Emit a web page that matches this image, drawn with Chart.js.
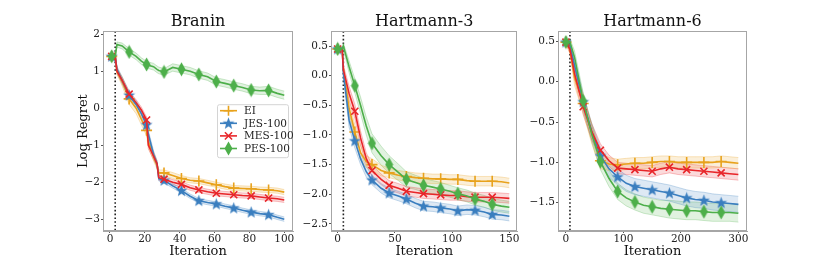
<!DOCTYPE html>
<html>
<head>
<meta charset="utf-8">
<script src="https://cdn.jsdelivr.net/npm/chart.js@4"></script>
<style>
  body { margin: 0; background: #fff; }
  .panel { position: absolute; top: 0; }
</style>
</head>
<body>
<canvas id="branin" class="panel" style="left:70px" width="230" height="260"></canvas>
<canvas id="hart3" class="panel" style="left:300px" width="225" height="260"></canvas>
<canvas id="hart6" class="panel" style="left:525px" width="230" height="260"></canvas>
<script>
// ---- data ----
const methods = ['EI', 'JES-100', 'MES-100', 'PES-100']

// Branin
const branX = [0, 1, 3, 4, 7, 11, 15, 18, 21, 22, 25, 27, 28, 31, 36, 41, 46, 51, 56, 61, 66, 71, 76, 81, 86, 91, 96, 100]
const branEI = [1.4, 1.4, 1.4, 1.0, 0.72, 0.25, 0.0, -0.3, -0.6, -0.9, -1.3, -1.55, -1.75, -1.75, -1.82, -1.9, -1.95, -1.97, -2.02, -2.07, -2.12, -2.16, -2.17, -2.18, -2.2, -2.21, -2.23, -2.27]
const branJES = [1.4, 1.4, 1.4, 1.05, 0.75, 0.35, 0.1, -0.15, -0.45, -0.7, -1.25, -1.5, -1.9, -1.95, -2.1, -2.23, -2.38, -2.5, -2.55, -2.59, -2.65, -2.7, -2.76, -2.81, -2.85, -2.88, -2.95, -3.0]
const branMES = [1.4, 1.4, 1.4, 1.0, 0.75, 0.38, 0.15, -0.05, -0.32, -1.0, -1.3, -1.5, -1.88, -1.92, -2.0, -2.06, -2.15, -2.21, -2.26, -2.3, -2.32, -2.34, -2.36, -2.37, -2.4, -2.43, -2.45, -2.48]
const branPES = [1.4, 1.4, 1.4, 1.72, 1.68, 1.52, 1.4, 1.27, 1.18, 1.16, 1.12, 1.05, 1.02, 0.98, 1.1, 1.05, 1.0, 0.91, 0.85, 0.72, 0.67, 0.61, 0.56, 0.49, 0.47, 0.48, 0.4, 0.35]
const branEIerr = [0.05, 0.05, 0.05, 0.08, 0.12, 0.15, 0.15, 0.15, 0.15, 0.15, 0.12, 0.1, 0.08, 0.08, 0.08, 0.08, 0.07, 0.07, 0.07, 0.07, 0.07, 0.07, 0.07, 0.07, 0.07, 0.07, 0.07, 0.07]
const branJESerr = [0.05, 0.05, 0.05, 0.08, 0.1, 0.1, 0.1, 0.1, 0.1, 0.1, 0.1, 0.08, 0.07, 0.07, 0.06, 0.06, 0.06, 0.06, 0.06, 0.06, 0.06, 0.06, 0.06, 0.06, 0.06, 0.06, 0.06, 0.06]
const branMESerr = [0.05, 0.05, 0.05, 0.08, 0.08, 0.08, 0.08, 0.08, 0.08, 0.1, 0.1, 0.08, 0.07, 0.07, 0.07, 0.07, 0.07, 0.07, 0.07, 0.07, 0.07, 0.07, 0.07, 0.07, 0.07, 0.07, 0.07, 0.07]
const branPESerr = [0.06, 0.06, 0.06, 0.07, 0.08, 0.09, 0.09, 0.09, 0.09, 0.09, 0.09, 0.09, 0.09, 0.09, 0.1, 0.1, 0.1, 0.1, 0.1, 0.1, 0.1, 0.1, 0.1, 0.1, 0.1, 0.11, 0.11, 0.11]
const branMarks = [1, 11, 21, 31, 41, 51, 61, 71, 81, 91]

// Hartmann-3
const h3X = [0, 4, 5, 10, 15, 20, 25, 30, 38, 45, 53, 60, 68, 75, 83, 90, 98, 105, 113, 120, 128, 135, 143, 150]
const h3EI = [0.45, 0.45, 0.1, -0.55, -0.95, -1.3, -1.45, -1.5, -1.6, -1.64, -1.68, -1.7, -1.72, -1.73, -1.74, -1.74, -1.75, -1.75, -1.77, -1.78, -1.78, -1.78, -1.79, -1.81]
const h3JES = [0.45, 0.45, 0.05, -0.75, -1.1, -1.4, -1.62, -1.76, -1.9, -1.98, -2.03, -2.08, -2.15, -2.2, -2.21, -2.23, -2.25, -2.28, -2.26, -2.27, -2.3, -2.34, -2.35, -2.37]
const h3MES = [0.45, 0.45, 0.1, -0.3, -0.6, -1.05, -1.4, -1.6, -1.75, -1.85, -1.9, -1.95, -1.97, -1.99, -2.0, -2.01, -2.02, -2.02, -2.04, -2.05, -2.05, -2.05, -2.06, -2.07]
const h3PES = [0.45, 0.45, 0.5, 0.15, -0.17, -0.5, -0.85, -1.14, -1.35, -1.5, -1.63, -1.75, -1.8, -1.85, -1.88, -1.91, -1.95, -1.99, -2.03, -2.08, -2.12, -2.17, -2.2, -2.22]
const h3EIerr = [0.03, 0.03, 0.08, 0.12, 0.12, 0.12, 0.1, 0.1, 0.09, 0.08, 0.08, 0.08, 0.08, 0.08, 0.08, 0.08, 0.08, 0.08, 0.08, 0.08, 0.08, 0.08, 0.08, 0.08]
const h3JESerr = [0.03, 0.03, 0.08, 0.12, 0.12, 0.1, 0.09, 0.08, 0.08, 0.08, 0.08, 0.08, 0.08, 0.08, 0.08, 0.08, 0.08, 0.08, 0.08, 0.08, 0.08, 0.08, 0.08, 0.08]
const h3MESerr = [0.03, 0.03, 0.08, 0.12, 0.12, 0.12, 0.1, 0.1, 0.09, 0.08, 0.08, 0.08, 0.08, 0.08, 0.08, 0.08, 0.08, 0.08, 0.08, 0.08, 0.08, 0.08, 0.08, 0.08]
const h3PESerr = [0.03, 0.03, 0.05, 0.1, 0.12, 0.14, 0.15, 0.16, 0.16, 0.15, 0.14, 0.13, 0.12, 0.12, 0.11, 0.11, 0.1, 0.1, 0.1, 0.1, 0.1, 0.1, 0.1, 0.1]
const h3Marks = [0, 15, 30, 45, 60, 75, 90, 105, 120, 135]

// Hartmann-6
const h6X = [0, 7, 15, 30, 45, 60, 75, 90, 105, 120, 135, 150, 165, 180, 195, 210, 225, 240, 255, 270, 285, 300]
const h6EI = [0.49, 0.4, 0.05, -0.27, -0.65, -0.98, -1.02, -1.03, -1.02, -1.01, -1.01, -1.0, -0.99, -0.99, -1.0, -1.0, -1.0, -1.0, -1.0, -0.99, -1.0, -1.01]
const h6JES = [0.49, 0.45, 0.2, -0.25, -0.62, -0.92, -1.08, -1.18, -1.26, -1.3, -1.32, -1.34, -1.36, -1.38, -1.41, -1.44, -1.46, -1.47, -1.49, -1.5, -1.51, -1.52]
const h6MES = [0.49, 0.4, 0.1, -0.31, -0.62, -0.85, -0.98, -1.07, -1.08, -1.09, -1.1, -1.11, -1.08, -1.06, -1.08, -1.09, -1.1, -1.11, -1.12, -1.13, -1.14, -1.15]
const h6PES = [0.49, 0.49, 0.3, -0.24, -0.65, -0.99, -1.2, -1.36, -1.44, -1.49, -1.53, -1.55, -1.57, -1.58, -1.59, -1.6, -1.6, -1.61, -1.62, -1.62, -1.62, -1.63]
const h6EIerr = [0.02, 0.05, 0.1, 0.12, 0.12, 0.1, 0.08, 0.07, 0.07, 0.07, 0.07, 0.07, 0.07, 0.07, 0.07, 0.07, 0.07, 0.07, 0.07, 0.07, 0.07, 0.07]
const h6JESerr = [0.02, 0.05, 0.08, 0.1, 0.1, 0.1, 0.1, 0.1, 0.1, 0.1, 0.1, 0.1, 0.1, 0.1, 0.1, 0.1, 0.1, 0.1, 0.1, 0.1, 0.1, 0.1]
const h6MESerr = [0.02, 0.05, 0.08, 0.1, 0.1, 0.08, 0.07, 0.07, 0.07, 0.07, 0.07, 0.07, 0.07, 0.07, 0.07, 0.07, 0.07, 0.07, 0.07, 0.07, 0.07, 0.07]
const h6PESerr = [0.02, 0.04, 0.08, 0.1, 0.1, 0.1, 0.1, 0.1, 0.1, 0.1, 0.1, 0.1, 0.1, 0.11, 0.11, 0.11, 0.11, 0.11, 0.11, 0.11, 0.11, 0.11]
const h6Marks = [0, 30, 60, 90, 120, 150, 180, 210, 240, 270]

// initial design size (dotted line)
const initPoints = [3, 5, 7]

// axis ticks
const branXTicks = [0, 20, 40, 60, 80, 100]
const branYTicks = [-3, -2, -1, 0, 1, 2]
const h3XTicks = [0, 50, 100, 150]
const h3YTicks = [-2.5, -2.0, -1.5, -1.0, -0.5, 0.0, 0.5]
const h6XTicks = [0, 100, 200, 300]
const h6YTicks = [-1.5, -1.0, -0.5, 0.0, 0.5]

// ---- styling ----
const colors = ['#e8a21c', '#3a7ebf', '#e8262a', '#4daf4a']
const rgba = (hex, a) => {
    const n = parseInt(hex.slice(1), 16)
    return `rgba(${n >> 16},${(n >> 8) & 255},${n & 255},${a})`
}
const serif = "'DejaVu Serif', serif"
const spine = '#a6a6a6'

function makeStar(color) {
    const c = document.createElement('canvas')
    c.width = 13; c.height = 13
    const g = c.getContext('2d')
    g.fillStyle = color
    g.beginPath()
    for (let i = 0; i < 10; i++) {
        const r = i % 2 ? 2.6 : 6.3
        const a = -Math.PI / 2 + i * Math.PI / 5
        g.lineTo(6.5 + r * Math.cos(a), 6.8 + r * Math.sin(a))
    }
    g.closePath()
    g.fill()
    return c
}
function makeDiamond(color) {
    const c = document.createElement('canvas')
    c.width = 9; c.height = 15
    const g = c.getContext('2d')
    g.fillStyle = color
    g.beginPath()
    g.moveTo(4.5, 0.5); g.lineTo(8.5, 7.5); g.lineTo(4.5, 14.5); g.lineTo(0.5, 7.5)
    g.closePath()
    g.fill()
    return c
}
const markers = ['cross', makeStar(colors[1]), 'crossRot', makeDiamond(colors[3])]
const markerRadius = [5.5, 6, 5, 6]
const lineOrder = [3, 2, 1, 0]

function buildDatasets(xs, series, errs, marks) {
    const sets = []
    series.forEach((ys, k) => {
        const col = colors[k]
        const lo = xs.map((x, i) => ({ x, y: ys[i] - errs[k][i] }))
        const hi = xs.map((x, i) => ({ x, y: ys[i] + errs[k][i] }))
        const base = sets.length
        sets.push({ data: lo, borderColor: rgba(col, 0.35), borderWidth: 0.8, pointRadius: 0, fill: false, order: 10 })
        sets.push({ data: hi, borderColor: rgba(col, 0.35), borderWidth: 0.8, pointRadius: 0,
            fill: { target: base }, backgroundColor: rgba(col, 0.17), order: 10 })
        sets.push({
            label: methods[k],
            data: xs.map((x, i) => ({ x, y: ys[i] })),
            borderColor: col, borderWidth: 1.6,
            pointStyle: markers[k],
            pointRadius: c => (c.raw && marks.includes(c.raw.x)) ? markerRadius[k] : 0,
            pointBackgroundColor: col, pointBorderColor: col, pointBorderWidth: 1.6,
            fill: false, order: lineOrder[k]
        })
    })
    return sets
}

// frame on all four sides + dotted line at end of initial design
const framePlugin = {
    id: 'frame',
    beforeDatasetsDraw(chart) {
        const { ctx, chartArea: a, scales } = chart
        const xv = chart.options.plugins.frame.initX
        const px = scales.x.getPixelForValue(xv)
        ctx.save()
        ctx.strokeStyle = '#222'
        ctx.lineWidth = 1.6
        ctx.setLineDash([1.6, 2.2])
        ctx.beginPath()
        ctx.moveTo(px, a.top)
        ctx.lineTo(px, a.bottom)
        ctx.stroke()
        ctx.restore()
    },
    afterDraw(chart) {
        const { ctx, chartArea: a } = chart
        ctx.save()
        ctx.strokeStyle = spine
        ctx.lineWidth = 1
        ctx.strokeRect(Math.round(a.left) + 0.5, Math.round(a.top) + 0.5,
            Math.round(a.right - a.left) - 1, Math.round(a.bottom - a.top) - 1)
        ctx.restore()
    }
}

// matplotlib-style legend (line + marker) inside the Branin panel
const legendPlugin = {
    id: 'mplLegend',
    afterDraw(chart) {
        const opt = chart.options.plugins.mplLegend
        if (!opt || !opt.show) return
        const { ctx, chartArea: a } = chart
        const w = 71, h = 53
        const x0 = a.right - w - 5, y0 = a.top + 73
        ctx.save()
        ctx.fillStyle = 'rgba(255,255,255,0.85)'
        ctx.strokeStyle = '#d4d4d4'
        ctx.lineWidth = 1
        ctx.beginPath()
        ctx.roundRect(x0 + 0.5, y0 + 0.5, w, h, 2)
        ctx.fill()
        ctx.stroke()
        ctx.font = `10.5px ${serif}`
        ctx.textBaseline = 'middle'
        methods.forEach((m, k) => {
            const y = y0 + 6.5 + k * 12.6
            const col = colors[k]
            ctx.strokeStyle = col
            ctx.fillStyle = col
            ctx.lineWidth = 1.6
            ctx.beginPath()
            ctx.moveTo(x0 + 3, y)
            ctx.lineTo(x0 + 20, y)
            ctx.stroke()
            const cx = x0 + 11.5
            const st = markers[k]
            if (st === 'cross') {
                ctx.beginPath()
                ctx.moveTo(cx, y - 5); ctx.lineTo(cx, y + 5)
                ctx.moveTo(cx - 5, y); ctx.lineTo(cx + 5, y)
                ctx.stroke()
            } else if (st === 'crossRot') {
                ctx.beginPath()
                ctx.moveTo(cx - 3.6, y - 3.6); ctx.lineTo(cx + 3.6, y + 3.6)
                ctx.moveTo(cx - 3.6, y + 3.6); ctx.lineTo(cx + 3.6, y - 3.6)
                ctx.stroke()
            } else {
                ctx.drawImage(st, cx - st.width / 2, y - st.height / 2)
            }
            ctx.fillStyle = '#222'
            ctx.fillText(m, x0 + 27, y + 0.5)
        })
        ctx.restore()
    }
}

const fmt = (dec) => (v) => (v < 0 ? '\u2212' : '') + Math.abs(v).toFixed(dec)

function makeChart(id, cfg) {
    const xs = cfg.xs
    new Chart(document.getElementById(id), {
        type: 'line',
        data: { datasets: buildDatasets(xs, cfg.series, cfg.errs, cfg.marks) },
        options: {
            responsive: false,
            animation: false,
            events: [],
            layout: { padding: { left: 0, right: cfg.padRight, top: 0, bottom: 1 } },
            elements: { line: { tension: 0 } },
            plugins: {
                legend: { display: false },
                tooltip: { enabled: false },
                title: {
                    display: true, text: cfg.title, fullSize: false,
                    color: '#111', font: { family: serif, size: 16, weight: 'normal' },
                    padding: { top: 12, bottom: 0 }
                },
                frame: { initX: cfg.initX },
                mplLegend: { show: !!cfg.legend }
            },
            scales: {
                x: {
                    type: 'linear', min: cfg.xMin, max: cfg.xMax,
                    afterBuildTicks: s => { s.ticks = cfg.xTicks.map(v => ({ value: v })) },
                    afterFit: s => { s.height = 28 },
                    grid: { display: true, drawOnChartArea: false, drawTicks: true, tickLength: 2, color: '#555' },
                    border: { color: spine },
                    ticks: { color: '#222', font: { family: serif, size: 10.5 }, padding: 0, maxRotation: 0,
                        callback: v => String(v) },
                    title: { display: true, text: 'Iteration', color: '#111',
                        font: { family: serif, size: 13 }, padding: 0 }
                },
                y: {
                    type: 'linear', min: cfg.yMin, max: cfg.yMax,
                    afterBuildTicks: s => { s.ticks = cfg.yTicks.map(v => ({ value: v })) },
                    afterFit: s => { s.width = cfg.yWidth },
                    grid: { display: true, drawOnChartArea: false, drawTicks: true, tickLength: 2, color: '#555' },
                    border: { color: spine },
                    ticks: { color: '#222', font: { family: serif, size: 10.5 }, padding: 1,
                        callback: fmt(cfg.yDec) },
                    title: { display: !!cfg.yTitle, text: cfg.yTitle || '', color: '#111',
                        font: { family: serif, size: 13 }, padding: { top: 6, bottom: 0 } }
                }
            }
        },
        plugins: [framePlugin, legendPlugin]
    })
}

makeChart('branin', {
    title: 'Branin', xs: branX,
    series: [branEI, branJES, branMES, branPES],
    errs: [branEIerr, branJESerr, branMESerr, branPESerr],
    marks: branMarks, initX: initPoints[0],
    xMin: -4, xMax: 105, yMin: -3.32, yMax: 2.08,
    xTicks: branXTicks, yTicks: branYTicks, yDec: 0,
    yWidth: 33, padRight: 7, yTitle: 'Log Regret', legend: true
})
makeChart('hart3', {
    title: 'Hartmann-3', xs: h3X,
    series: [h3EI, h3JES, h3MES, h3PES],
    errs: [h3EIerr, h3JESerr, h3MESerr, h3PESerr],
    marks: h3Marks, initX: initPoints[1],
    xMin: -5.8, xMax: 157, yMin: -2.62, yMax: 0.75,
    xTicks: h3XTicks, yTicks: h3YTicks, yDec: 1,
    yWidth: 31, padRight: 5
})
makeChart('hart6', {
    title: 'Hartmann-6', xs: h6X,
    series: [h6EI, h6JES, h6MES, h6PES],
    errs: [h6EIerr, h6JESerr, h6MESerr, h6PESerr],
    marks: h6Marks, initX: initPoints[2],
    xMin: -13.8, xMax: 315, yMin: -1.85, yMax: 0.625,
    xTicks: h6XTicks, yTicks: h6YTicks, yDec: 1,
    yWidth: 33, padRight: 8
})
</script>
</body>
</html>
